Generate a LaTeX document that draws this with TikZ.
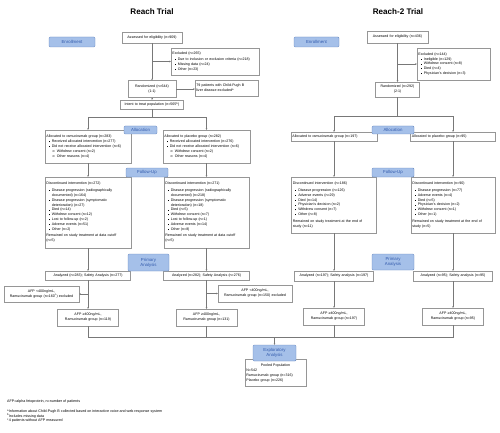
\documentclass[tikz,border=0pt]{standalone}
\usepackage{fontspec}
\setmainfont{Liberation Sans}
\usetikzlibrary{arrows.meta}
\definecolor{labfill}{RGB}{165,192,233}
\definecolor{labdraw}{RGB}{100,134,190}
\definecolor{labtext}{RGB}{50,90,172}
\definecolor{boxgray}{RGB}{150,150,150}
\definecolor{linegray}{RGB}{120,120,120}
\newcommand{\boxfont}{\fontsize{5.1}{7}\selectfont}
\newcommand{\bpt}{\hspace*{3pt}\rule[0.3ex]{1.2pt}{1.2pt}\hspace{3.5pt}}
\newcommand{\spt}{\hspace*{9pt}o\hspace{3pt}}
\newcommand{\ind}{\hspace*{7.7pt}}
\begin{document}
\begin{tikzpicture}[x=0.5mm,y=-0.5mm,
  box/.style={draw=boxgray,fill=white,line width=0.4pt,inner xsep=2pt,inner ysep=1.5pt,font=\boxfont},
  lbox/.style={box,align=left},
  cbox/.style={box,align=center},
  lab/.style={draw=labdraw,fill=labfill,text=labtext,rounded corners=1.5pt,line width=0.6pt,
    inner sep=0.5pt,align=center,font=\fontsize{6.2}{7}\selectfont},
  ln/.style={draw=linegray,line width=0.7pt},
  arr/.style={ln,-{Stealth[length=2.4pt,width=2.2pt]}},
  ttl/.style={font=\fontsize{11.5}{13}\selectfont\bfseries}]
\useasboundingbox (0,0) rectangle (500,433);

% Reach
\node[ttl] (t1) at (152,12) {Reach Trial};
\node[lab,minimum width=23mm,minimum height=5mm] (enr1) at (72,42) {Enrollment};
\node[cbox,text width=28.6mm,minimum height=5.5mm] (ass1) at (152,37.5) {Assessed for eligibility (n=909)};
\node[lbox,text width=42.6mm,minimum height=13.5mm] (exc1) at (215,61.5) {Excluded (n=265)\\[1.5pt]
  \bpt Due to inclusion or exclusion criteria (n=218)\\ \bpt Missing data (n=24)\\ \bpt Other (n=23)};
\node[cbox,text width=22.6mm,minimum height=8.5mm] (ran1) at (152,89) {Randomized (n=644)\\(1:1)};
\node[lbox,text width=30.1mm,minimum height=8mm] (cpb1) at (226.5,88) {79 patients with Child-Pugh B\\liver disease excluded\textsuperscript{a}};
\node[cbox,text width=30.1mm,minimum height=4.5mm] (itt1) at (152,104.5) {Intent to treat population (n=565\textsuperscript{b})};
\node[lbox,text width=41.6mm,minimum height=16.5mm] (ara1) at (88,146.5) {Allocated to ramucirumab group (n=283)\\[1pt]
  \bpt Received allocated intervention (n=277)\\ \bpt Did not receive allocated intervention (n=6)\\
  \spt Withdrew consent (n=2)\\ \spt Other reasons (n=4)};
\node[lbox,text width=42.1mm,minimum height=16.5mm] (apl1) at (206.5,146.5) {Allocated to placebo group (n=282)\\[1pt]
  \bpt Received allocated intervention (n=276)\\ \bpt Did not receive allocated intervention (n=6)\\
  \spt Withdrew consent (n=2)\\ \spt Other reasons (n=4)};
\node[lab,minimum width=16.5mm,minimum height=4mm] (alo1) at (140.5,130) {Allocation};
\node[lbox,text width=41.6mm,minimum height=35.5mm] (dra1) at (88,212.5) {Discontinued intervention (n=272)\\[2pt]
  \bpt Disease progression (radiographically\\ \ind documented) (n=164)\\
  \bpt Disease progression (symptomatic\\ \ind deterioration) (n=27)\\
  \bpt Died (n=14)\\ \bpt Withdrew consent (n=12)\\ \bpt Lost to follow-up (n=2)\\
  \bpt Adverse events (n=51)\\ \bpt Other (n=2)\\[2pt]
  Remained on study treatment at data cutoff\\(n=5)};
\node[lbox,text width=41.1mm,minimum height=35.5mm] (dpl1) at (206.5,212.5) {Discontinued intervention (n=271)\\[2pt]
  \bpt Disease progression (radiographically\\ \ind documented) (n=218)\\
  \bpt Disease progression (symptomatic\\ \ind deterioration) (n=18)\\
  \bpt Died (n=5)\\ \bpt Withdrew consent (n=7)\\ \bpt Lost to follow-up (n=1)\\
  \bpt Adverse events (n=14)\\ \bpt Other (n=8)\\[2pt]
  Remained on study treatment at data cutoff\\(n=5)};
\node[lab,minimum width=21mm,minimum height=4.5mm] (fol1) at (147,172.5) {Follow-Up};
\node[cbox,text width=41.1mm,minimum height=4.5mm] (ana1) at (88,275.5) {Analyzed (n=283); Safety Analysis (n=277)};
\node[cbox,text width=41.6mm,minimum height=4.5mm] (anp1) at (206.5,275.5) {Analyzed (n=282); Safety Analysis (n=276)};
\node[lab,minimum width=20.5mm,minimum height=8.5mm] (pri1) at (148.5,262.5) {Primary\\Analysis};
\node[cbox,text width=36.1mm,minimum height=8mm] (afl1) at (41.5,294) {AFP <400ng/mL,\\Ramucirumab group (n=160\textsuperscript{c}) excluded};
\node[cbox,text width=29.1mm,minimum height=8.5mm] (afh1) at (88,317.5) {AFP ≥400ng/mL,\\Ramucirumab group (n=119)};
\node[cbox,text width=35.6mm,minimum height=8.5mm] (afl2) at (255,293.5) {AFP <400ng/mL,\\Ramucirumab group (n=150) excluded};
\node[cbox,text width=29.1mm,minimum height=8.5mm] (afh2) at (206.5,317.5) {AFP ≥400ng/mL,\\Ramucirumab group (n=131)};

% Reach-2
\node[ttl] (t2) at (398,12) {Reach-2 Trial};
\node[lab,minimum width=22.5mm,minimum height=5mm] (enr2) at (316.5,42) {Enrollment};
\node[cbox,text width=29.1mm,minimum height=6mm] (ass2) at (397.5,37) {Assessed for eligibility (n=436)};
\node[lbox,text width=35.1mm,minimum height=16mm] (exc2) at (453.5,64) {Excluded (n=144)\\
  \bpt Ineligible (n=129)\\ \bpt Withdrew consent (n=8)\\ \bpt Died (n=4)\\ \bpt Physician's decision (n=3)};
\node[cbox,text width=20.6mm,minimum height=7.5mm] (ran2) at (397.5,89.5) {Randomized (n=292)\\(2:1)};
\node[lbox,text width=41.6mm,minimum height=4.5mm] (ara2) at (334,136.5) {Allocated to ramucirumab group (n=197)};
\node[lbox,text width=41.1mm,minimum height=4.5mm] (apl2) at (453,136.5) {Allocated to placebo group (n=95)};
\node[lab,minimum width=21mm,minimum height=4mm] (alo2) at (393,130) {Allocation};
\node[lbox,text width=41.1mm,minimum height=28mm] (dra2) at (334,205) {Discontinued intervention (n=186)\\[2pt]
  \bpt Disease progression (n=126)\\ \bpt Adverse events (n=29)\\ \bpt Died (n=14)\\
  \bpt Physician's decision (n=2)\\ \bpt Withdrew consent (n=7)\\ \bpt Other (n=8)\\[2pt]
  Remained on study treatment at the end of\\study (n=11)};
\node[lbox,text width=40.6mm,minimum height=28mm] (dpl2) at (453,205) {Discontinued intervention (n=90)\\[2pt]
  \bpt Disease progression (n=77)\\ \bpt Adverse events (n=4)\\ \bpt Died (n=5)\\
  \bpt Physician's decision (n=2)\\ \bpt Withdrew consent (n=1)\\ \bpt Other (n=1)\\[2pt]
  Remained on study treatment at the end of\\study (n=5)};
\node[lab,minimum width=21mm,minimum height=4.5mm] (fol2) at (393,172.5) {Follow-Up};
\node[cbox,text width=38.1mm,minimum height=5mm] (ana2) at (334,276) {Analyzed (n=197); Safety analysis (n=197)};
\node[cbox,text width=38.1mm,minimum height=5mm] (anp2) at (453,276) {Analyzed (n=95); Safety analysis (n=95)};
\node[lab,minimum width=21mm,minimum height=8mm] (pri2) at (393,262) {Primary\\Analysis};
\node[cbox,text width=29.1mm,minimum height=8.5mm] (afh3) at (334,316.5) {AFP ≥400ng/mL,\\Ramucirumab group (n=197)};
\node[cbox,text width=29.1mm,minimum height=8.5mm] (afh4) at (453,316.5) {AFP ≥400ng/mL,\\Ramucirumab group (n=95)};

% pooled
\node[lbox,text width=29.1mm,minimum height=13.5mm] (pool) at (275.5,373) {\makebox[29.1mm]{Pooled Population}\\
  N=542\\Ramucirumab group (n=316)\\Placebo group (n=226)};
\node[lab,minimum width=21.5mm,minimum height=8mm] (exp) at (274.5,353) {Exploratory\\Analysis};

\node[anchor=west,inner sep=0pt,font=\fontsize{5.2}{5.7}\selectfont] (fn1) at (7,402) {AFP=alpha fetoprotein, n=number of patients};
\node[anchor=north west,align=left,inner sep=0pt,font=\fontsize{5.2}{4.2}\selectfont] (fn2) at (7,409.5)
  {\textsuperscript{a}Information about Child-Pugh B collected based on interactive voice and web response system\\
   \textsuperscript{b}Includes missing data\\ \textsuperscript{c}4 patients without AFP measured};

% connectors
\draw[arr] (ass1) -- (ran1);
\draw[arr] (ass1.south |- exc1.west) -- (exc1.west);
\draw[arr] (ran1.east) -- (ran1.east -| cpb1.west);
\draw[arr] (ran1) -- (itt1);
\draw[ln] (itt1.south) -- ++(0,8.5) coordinate (b1);
\draw[arr] (b1) -| (ara1);
\draw[arr] (b1) -| (apl1);
\draw[arr] (ass2) -- (ran2);
\draw[arr] (ass2.south |- exc2.west) -- (exc2.west);
\draw[ln] (ran2.south) -- ++(0,19.5) coordinate (b2);
\draw[arr] (b2) -| (ara2);
\draw[arr] (b2) -| (apl2);
\foreach \a/\b in {ara1/dra1,apl1/dpl1,dra1/ana1,dpl1/anp1,ana1/afh1,anp1/afh2,
  ara2/dra2,apl2/dpl2,dra2/ana2,dpl2/anp2,ana2/afh3,anp2/afh4}
  \draw[arr] (\a) -- (\b);
\draw[arr] (ana1.south |- afl1.east) -- (afl1.east);
\draw[arr] (anp1.south |- afl2.west) -- (afl2.west);
\draw[ln] (afh1.south) -- ++(0,11) coordinate (c1) -- (c1 -| afh4.south) -- (afh4.south);
\foreach \n in {afh2,afh3}
  \draw[ln] (\n.south) -- (\n.south |- c1);
\draw[arr] (c1 -| exp.north) -- (exp.north);
\end{tikzpicture}
\end{document}
